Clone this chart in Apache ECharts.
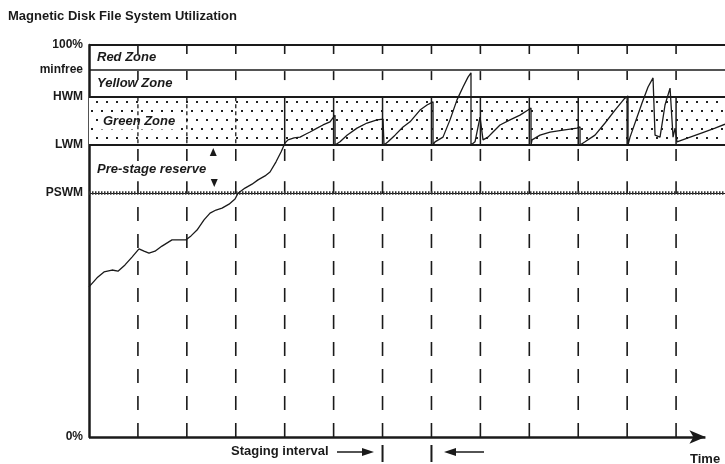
<!DOCTYPE html>
<html>
<head>
<meta charset="utf-8">
<script src="https://cdn.jsdelivr.net/npm/echarts@6/dist/echarts.min.js"></script>
<style>html,body{margin:0;padding:0;background:#fff}#c{width:725px;height:464px}</style>
</head>
<body>
<div id="c"></div>
<script>
// ---- data ----
const levelNames  = ['0%', 'PSWM', 'LWM', 'HWM', 'minfree', '100%'];
const levelValues = [0, 62.2, 74.5, 86.7, 93.6, 100];
const zoneNames = ['Red Zone', 'Yellow Zone', 'Green Zone', 'Pre-stage reserve'];
const intervalX = [1, 2, 3, 4, 5, 6, 7, 8, 9, 10, 11, 12];
const stagingMarksX = [6, 7];
const timeMax = 13;
const curveX = [0,0.164,0.307,0.470,0.593,0.736,0.879,1.022,1.124,1.226,1.349,1.492,1.697,1.860,1.983,2.085,2.208,2.351,2.474,2.596,2.719,2.862,2.985,3.046,3.189,3.332,3.455,3.598,3.700,3.823,3.925,4.006,4.068,4.191,4.314,4.436,4.518,4.661,4.783,4.926,5.029,5.029,5.131,5.274,5.478,5.683,5.887,6.010,6.030,6.030,6.112,6.255,6.419,6.562,6.766,6.909,7.032,7.032,7.073,7.236,7.379,7.522,7.645,7.747,7.808,7.808,7.890,7.993,8.054,8.156,8.258,8.401,8.606,8.810,8.974,9.035,9.035,9.056,9.219,9.424,9.689,9.975,10.037,10.037,10.139,10.343,10.548,10.752,10.936,11.018,11.018,11.059,11.304,11.427,11.529,11.570,11.672,11.774,11.877,11.938,11.979,12.019,12.040,12.245,12.531,12.796,13.0];
const curveY = [38.3,40.6,42.1,42.6,42.3,43.9,45.9,48.0,47.4,46.9,47.4,48.7,50.3,50.3,50.3,51.3,52.8,55.4,57.1,57.9,58.4,59.4,60.7,62.2,63.5,64.5,65.6,66.6,67.6,70.2,72.7,75.0,75.8,76.3,76.5,77.3,77.8,78.8,79.6,80.4,82.1,74.5,75.3,77.0,78.8,80.1,80.9,81.1,81.2,74.5,75.3,77.0,79.1,80.4,83.4,84.7,85.5,74.5,75.3,76.5,80.9,86.0,89.3,91.8,92.9,74.5,75.3,81.6,75.8,76.5,77.8,79.6,80.9,82.1,83.4,83.9,74.5,75.8,77.0,77.8,78.3,78.8,79.1,74.5,75.3,77.0,80.1,83.4,86.2,87.0,74.5,76.5,85.2,89.3,91.6,77.0,76.5,84.7,89.0,76.5,78.8,75.3,75.3,76.3,77.6,78.8,79.8];
const reserveArrowX = [2.54, 2.56];
const reserveArrowY = [72.7, 64.8];

// ---- helpers ----
const PSWM = levelValues[1], LWM = levelValues[2], HWM = levelValues[3], MINFREE = levelValues[4], TOP = levelValues[5];
const FONT = '"Liberation Sans", Arial, Helvetica, sans-serif';
const INK = '#1a1a1a';

function makeDots() {
  const cv = document.createElement('canvas');
  cv.width = 10; cv.height = 18;
  const g = cv.getContext('2d');
  g.fillStyle = '#fff'; g.fillRect(0, 0, 10, 18);
  g.fillStyle = '#222';
  g.fillRect(1, 2, 2, 2);
  g.fillRect(6, 11, 2, 2);
  return cv;
}

const curveData = curveX.map((x, i) => [x, curveY[i]]);
const zoneLabel = {
  show: true, position: 'insideLeft', distance: 8,
  fontFamily: FONT, fontSize: 13, fontWeight: 'bold', fontStyle: 'italic', color: INK
};

const chart = echarts.init(document.getElementById('c'), null, {renderer: 'canvas'});
chart.setOption({
  animation: false,
  backgroundColor: '#fff',
  title: {
    text: 'Magnetic Disk File System Utilization',
    left: 3, top: 5,
    textStyle: {fontFamily: FONT, fontSize: 13, fontWeight: 'bold', color: INK}
  },
  grid: {left: 89, right: 0, top: 45, bottom: 27},
  xAxis: {
    type: 'value', min: 0, max: timeMax,
    axisLine: {show: false}, axisTick: {show: false}, axisLabel: {show: false}, splitLine: {show: false}
  },
  yAxis: {
    type: 'value', min: 0, max: 100,
    axisLine: {show: true, lineStyle: {color: INK, width: 2.5}},
    axisTick: {show: false},
    splitLine: {show: false},
    axisLabel: {
      customValues: levelValues,
      margin: 6,
      fontFamily: FONT, fontSize: 12, fontWeight: 'bold', color: INK,
      formatter: v => { const i = levelValues.indexOf(v); return i >= 0 ? levelNames[i] : ''; }
    }
  },
  graphic: [
    {type: 'text', left: 231, top: 445, style: {text: 'Staging interval', font: 'bold 13px ' + FONT, fill: INK}},
    {type: 'line', shape: {x1: 337, y1: 452, x2: 364, y2: 452}, style: {stroke: INK, lineWidth: 1.5}},
    {type: 'polygon', shape: {points: [[362, 448], [374, 452], [362, 456]]}, style: {fill: INK}},
    {type: 'polygon', shape: {points: [[444, 452], [456, 448], [456, 456]]}, style: {fill: INK}},
    {type: 'line', shape: {x1: 455, y1: 452, x2: 484, y2: 452}, style: {stroke: INK, lineWidth: 1.5}},
    {type: 'text', left: 690, top: 453, style: {text: 'Time', font: 'bold 13px ' + FONT, fill: INK}}
  ],
  series: [
    {
      type: 'line', name: 'zones', data: [], silent: true, z: 1,
      markArea: {
        silent: true,
        data: [
          [{name: zoneNames[0], xAxis: 0, yAxis: MINFREE, itemStyle: {color: 'rgba(0,0,0,0)'}, label: zoneLabel}, {xAxis: timeMax, yAxis: TOP}],
          [{name: zoneNames[1], xAxis: 0, yAxis: HWM, itemStyle: {color: 'rgba(0,0,0,0)'}, label: zoneLabel}, {xAxis: timeMax, yAxis: MINFREE}],
          [{name: zoneNames[2], xAxis: 0, yAxis: LWM, itemStyle: {color: {image: makeDots(), repeat: 'repeat'}},
            label: Object.assign({}, zoneLabel, {distance: 10, backgroundColor: '#fff', padding: [2, 4]})}, {xAxis: timeMax, yAxis: HWM}],
          [{name: zoneNames[3], xAxis: 0, yAxis: PSWM, itemStyle: {color: 'rgba(0,0,0,0)'}, label: zoneLabel}, {xAxis: timeMax, yAxis: LWM}]
        ]
      }
    },
    {
      type: 'custom', name: 'intervals', z: 3, silent: true,
      data: intervalX.map(x => [x]),
      renderItem: function (params, api) {
        const x = api.value(0);
        const c = y => api.coord([x, y]);
        const px = c(0)[0];
        const yB = c(0)[1], yP = c(PSWM)[1], yL = c(LWM)[1], yH = c(HWM)[1], yM = c(MINFREE)[1], yT = c(TOP)[1];
        const seg = (y1, y2, extra) => ({
          type: 'line', shape: {x1: px, y1: y1, x2: px, y2: y2},
          style: Object.assign({stroke: INK, lineWidth: 1.6}, extra || {})
        });
        return {type: 'group', children: [
          seg(yB, yP, {lineDash: [14, 13]}),
          seg(yL + 4, yL + 16),
          seg(yP - 12, yP),
          x >= 4 ? seg(yH, yL, {lineWidth: 1.5}) : seg(yH, yL, {lineDash: [4, 3], lineWidth: 1.3}),
          seg(yM + 1, yM + 10),
          seg(yT, yT + 9)
        ]};
      }
    },
    {
      type: 'custom', name: 'staging', z: 3, silent: true, clip: false,
      data: stagingMarksX.map(x => [x]),
      renderItem: function (params, api) {
        const p = api.coord([api.value(0), 0]);
        return {type: 'line', shape: {x1: p[0], y1: p[1] + 8, x2: p[0], y2: p[1] + 25}, style: {stroke: INK, lineWidth: 2}};
      }
    },
    {
      type: 'line', name: 'utilization', data: curveData, showSymbol: false, smooth: false,
      clip: false, z: 5, silent: true,
      lineStyle: {color: INK, width: 1.3},
      markLine: {
        silent: true, symbol: ['none', 'none'], label: {show: false},
        data: [
          {yAxis: TOP, lineStyle: {color: INK, width: 2, type: 'solid'}},
          {yAxis: MINFREE, lineStyle: {color: INK, width: 1.5, type: 'solid'}},
          {yAxis: HWM, lineStyle: {color: INK, width: 2, type: 'solid'}},
          {yAxis: LWM, lineStyle: {color: INK, width: 2, type: 'solid'}},
          {yAxis: PSWM, lineStyle: {color: INK, width: 1.2, type: 'solid'}},
          {yAxis: PSWM, lineStyle: {color: '#333', width: 3.5, type: [1.5, 1.5]}},
          [
            {coord: [0, 0], symbol: 'none', lineStyle: {color: INK, width: 2.5, type: 'solid'}},
            {coord: [12.6, 0], symbol: 'arrow', symbolSize: [10, 16]}
          ]
        ]
      },
      markPoint: {
        silent: true, label: {show: false},
        itemStyle: {color: INK},
        data: [
          {coord: [reserveArrowX[0], reserveArrowY[0]], symbol: 'triangle', symbolSize: [7, 8]},
          {coord: [reserveArrowX[1], reserveArrowY[1]], symbol: 'triangle', symbolSize: [7, 8], symbolRotate: 180}
        ]
      }
    }
  ]
});
</script>
</body>
</html>
